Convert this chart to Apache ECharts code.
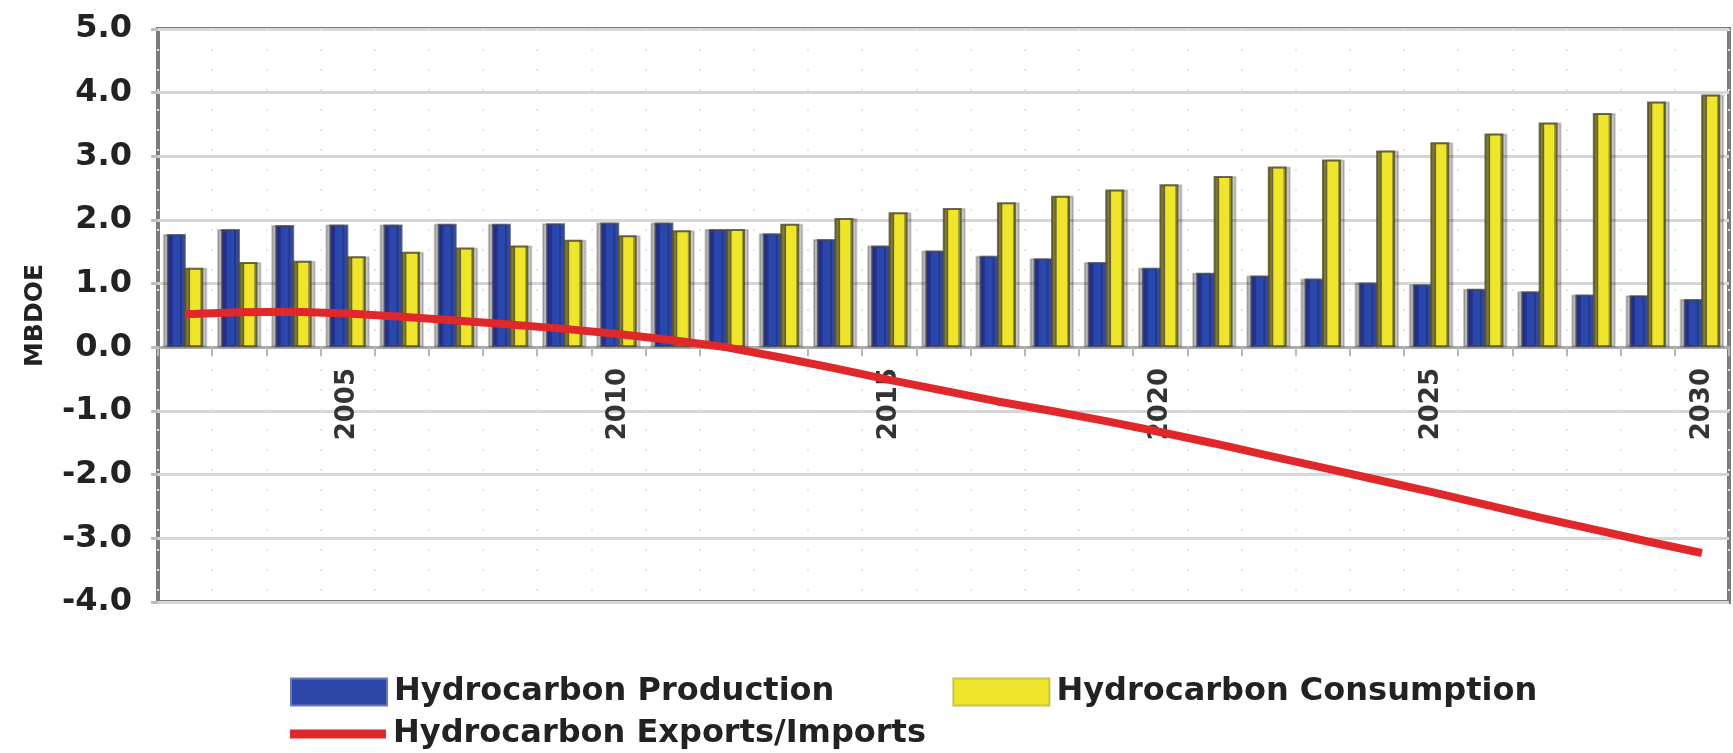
<!DOCTYPE html>
<html>
<head>
<meta charset="utf-8">
<script src="https://cdn.jsdelivr.net/npm/echarts@6/dist/echarts.min.js"></script>
<style>
html,body{margin:0;padding:0;background:#fff;}
#chart{width:1733px;height:753px;}
</style>
</head>
<body>
<div id="chart"></div>
<script>
var years = ['2002','2003','2004','2005','2006','2007','2008','2009','2010','2011','2012','2013','2014','2015','2016','2017','2018','2019','2020','2021','2022','2023','2024','2025','2026','2027','2028','2029','2030'];
var production = [1.78,1.86,1.92,1.93,1.93,1.94,1.94,1.95,1.96,1.96,1.86,1.79,1.70,1.60,1.52,1.44,1.40,1.34,1.25,1.17,1.13,1.08,1.02,0.99,0.92,0.88,0.83,0.82,0.76];
var consumption = [1.25,1.34,1.36,1.43,1.50,1.57,1.60,1.69,1.76,1.84,1.86,1.94,2.03,2.12,2.19,2.28,2.38,2.48,2.56,2.69,2.84,2.95,3.09,3.22,3.36,3.53,3.68,3.86,3.97];
var exportsImports = [0.52,0.55,0.56,0.53,0.48,0.42,0.36,0.29,0.21,0.11,0.00,-0.16,-0.33,-0.51,-0.68,-0.85,-1.00,-1.16,-1.33,-1.51,-1.70,-1.89,-2.08,-2.27,-2.47,-2.67,-2.86,-3.05,-3.23];
var yTicks = [-4,-3,-2,-1,0,1,2,3,4,5];

var FONT = 'DejaVu Sans';
var chart = echarts.init(document.getElementById('chart'));

var blueFill = new echarts.graphic.LinearGradient(0,0,1,0,[
  {offset:0,color:'#1b2878'},{offset:0.3,color:'#22359a'},{offset:0.31,color:'#2b46aa'},{offset:1,color:'#2e4ab0'}]);
var yellowFill = new echarts.graphic.LinearGradient(0,0,1,0,[
  {offset:0,color:'#807a32'},{offset:0.28,color:'#807a32'},{offset:0.29,color:'#efe52b'},{offset:0.82,color:'#efe52b'},{offset:0.83,color:'#a8a132'},{offset:1,color:'#a8a132'}]);

chart.setOption({
  backgroundColor:'#ffffff',
  animation:false,
  grid:{left:158,right:4,top:29,bottom:151,show:true,borderColor:'#7c7c7c',borderWidth:4,backgroundColor:'transparent'},
  legend:[
    {
      data:[
        {name:'Hydrocarbon Production',itemStyle:{color:'#2c46a8',borderColor:'#6a78c0',borderWidth:2}},
        {name:'Hydrocarbon Consumption',itemStyle:{color:'#efe52b',borderColor:'#c9c24a',borderWidth:2}}
      ],
      left:285,top:671,icon:'rect',itemWidth:96,itemHeight:27,itemGap:118,
      textStyle:{fontFamily:FONT,fontWeight:'bold',fontSize:32,color:'#222',padding:[0,0,0,2]}
    },
    {
      data:[{name:'Hydrocarbon Exports/Imports',itemStyle:{color:'#e0282a'}}],
      left:285,top:713,icon:'rect',itemWidth:96,itemHeight:9,
      textStyle:{fontFamily:FONT,fontWeight:'bold',fontSize:32,color:'#222',padding:[0,0,0,2]}
    }
  ],
  xAxis:{
    type:'category',data:years,boundaryGap:true,
    axisLine:{onZero:true,lineStyle:{color:'#a9a9a9',width:3}},
    axisTick:{show:true,interval:0,length:9,lineStyle:{color:'#b8b8b8',width:2}},
    splitLine:{show:true,interval:0,lineStyle:{color:'#e4e4e4',width:2,type:[2,18]}},
    axisLabel:{interval:function(i,v){return Number(v)%5===0;},rotate:90,margin:-234,hideOverlap:false,
      fontFamily:FONT,fontWeight:'bold',fontSize:26,color:'#333'}
  },
  yAxis:{
    type:'value',min:-4,max:5,interval:1,
    name:'MBDOE',nameLocation:'middle',nameGap:110,
    nameTextStyle:{fontFamily:FONT,fontWeight:'bold',fontSize:25,color:'#222'},
    axisLine:{show:false},
    axisTick:{show:true,length:7,lineStyle:{color:'#bdbdbd',width:3}},
    splitLine:{show:true,lineStyle:{color:'#d6d6d6',width:3}},
    axisLabel:{margin:26,fontFamily:FONT,fontWeight:'bold',fontSize:32,color:'#222',
      formatter:function(v){return yTicks.indexOf(v)>=0?v.toFixed(1):'';}}
  },
  series:[
    {name:'Hydrocarbon Production',type:'bar',data:production,barWidth:19,barGap:'-8%',
      itemStyle:{color:blueFill,borderColor:'rgba(70,70,90,0.75)',borderWidth:2,
        shadowColor:'rgba(0,0,0,0.28)',shadowBlur:0,shadowOffsetX:-4,shadowOffsetY:0},z:2},
    {name:'Hydrocarbon Consumption',type:'bar',data:consumption,barWidth:19,
      itemStyle:{color:yellowFill,borderColor:'rgba(80,78,40,0.8)',borderWidth:2,
        shadowColor:'rgba(0,0,0,0.22)',shadowBlur:0,shadowOffsetX:4,shadowOffsetY:0},z:2},
    {name:'Hydrocarbon Exports/Imports',type:'line',data:exportsImports,showSymbol:false,symbol:'none',
      lineStyle:{color:'#e0282a',width:8},itemStyle:{color:'#e0282a'},z:5}
  ]
});
</script>
</body>
</html>
